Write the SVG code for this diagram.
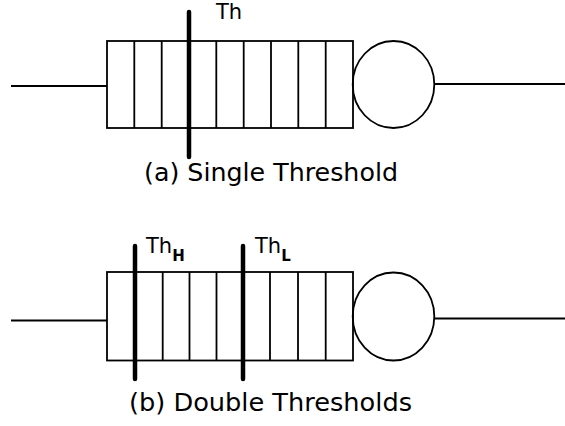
<svg xmlns="http://www.w3.org/2000/svg" width="565" height="426" viewBox="0 0 565 426">
<style>
.ln{stroke:#000;stroke-width:1.8;fill:none}
.th{stroke:#000;stroke-width:4.5;stroke-linecap:round}
.cap{font-family:"DejaVu Sans","Liberation Sans",sans-serif;font-size:25px;fill:#000}
.lab{font-family:"DejaVu Sans","Liberation Sans",sans-serif;font-size:21px;fill:#000}
.sub{font-family:"DejaVu Sans","Liberation Sans",sans-serif;font-size:15px;font-weight:bold;fill:#000}
</style>
<rect width="565" height="426" fill="#fff"/>
<g id="connectors">
<line class="ln" x1="11" y1="86" x2="107" y2="86"/>
<line class="ln" x1="434" y1="84" x2="565" y2="84"/>
<line class="ln" x1="11" y1="320.5" x2="107" y2="320.5"/>
<line class="ln" x1="434" y1="318.5" x2="565" y2="318.5"/>
</g>
<g id="queue-a">
<rect class="ln" x="107" y="41" width="246" height="87"/>
<path class="ln" d="M134.3 41V128M161.7 41V128M216.3 41V128M243.7 41V128M271 41V128M298.3 41V128M325.7 41V128"/>
</g>
<g id="server-a"><ellipse class="ln" cx="393.5" cy="84.5" rx="40.8" ry="43.5"/></g>
<g id="threshold-a">
<line class="th" x1="189" y1="12" x2="189" y2="157"/>
<text class="lab" x="216" y="19">Th</text>
</g>
<g id="caption-a"><text class="cap" x="144" y="181" textLength="254" lengthAdjust="spacingAndGlyphs">(a) Single Threshold</text></g>
<g id="queue-b">
<rect class="ln" x="107" y="272" width="246" height="88.5"/>
<path class="ln" d="M162.7 272V360.5M189.5 272V360.5M216.5 272V360.5M270 272V360.5M298 272V360.5M325.7 272V360.5"/>
</g>
<g id="server-b"><ellipse class="ln" cx="393.5" cy="316.5" rx="40.8" ry="44"/></g>
<g id="threshold-h">
<line class="th" x1="135" y1="246" x2="135" y2="379"/>
<text class="lab" x="146" y="253">Th<tspan class="sub" dy="8">H</tspan></text>
</g>
<g id="threshold-l">
<line class="th" x1="243" y1="246" x2="243" y2="379"/>
<text class="lab" x="255" y="253">Th<tspan class="sub" dy="8">L</tspan></text>
</g>
<g id="caption-b"><text class="cap" x="129" y="411" textLength="283" lengthAdjust="spacingAndGlyphs">(b) Double Thresholds</text></g>
</svg>
